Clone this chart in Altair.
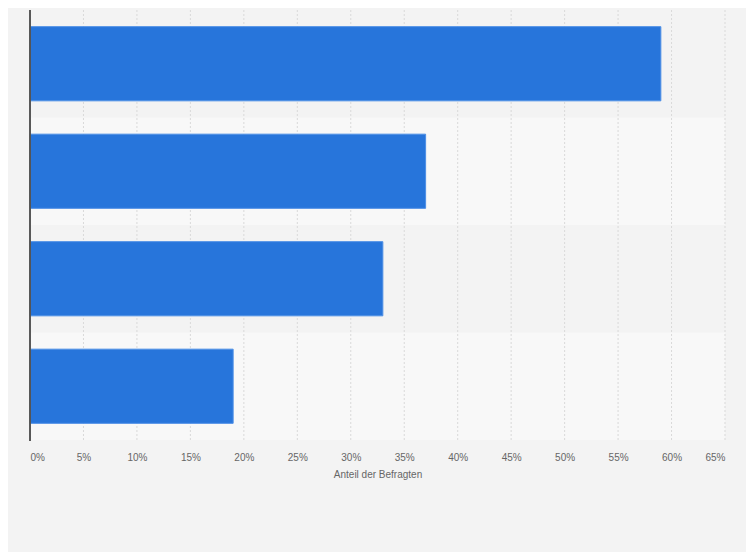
import altair as alt
import pandas as pd

categories = ["Kategorie A", "Kategorie B", "Kategorie C", "Kategorie D"]
values = [59, 37, 33, 19]
band_colors = ["#f3f3f3", "#f8f8f8", "#f3f3f3", "#f8f8f8"]
x_ticks = list(range(0, 70, 5))

df = pd.DataFrame({"cat": categories, "val": values, "band": band_colors})
grid_df = pd.DataFrame({"t": x_ticks[1:]})

x_scale = alt.Scale(domain=[0, 65], nice=False, zero=True)
x_axis = alt.Axis(values=x_ticks, labelExpr="datum.value + '%'",
                  grid=False, domain=False, ticks=False, labelPadding=12,
                  labelColor="#666666", labelFontSize=10, labelFont="Liberation Sans",
                  titleColor="#666666", titleFontSize=10, titleFontWeight="normal",
                  titleFont="Liberation Sans", titlePadding=7)

bands = alt.Chart(df).mark_rect().encode(
    y=alt.Y("cat:N", sort=categories, title=None, axis=None,
            scale=alt.Scale(paddingInner=0, paddingOuter=0)),
    x=alt.value(0),
    x2=alt.value(695),
    color=alt.Color("band:N", scale=None, legend=None),
)

grid = alt.Chart(grid_df).mark_rule(color="#d9d9d9", strokeDash=[2, 2], strokeWidth=1).encode(
    x=alt.X("t:Q", scale=x_scale, title="Anteil der Befragten", axis=x_axis),
    y=alt.value(0),
    y2=alt.value(430),
)

bars = alt.Chart(df).mark_bar(color="#2775db", stroke="#4d8fe6", strokeWidth=1).encode(
    y=alt.Y("cat:N", sort=categories, title=None,
            scale=alt.Scale(paddingInner=0.31, paddingOuter=0.155),
            axis=None),
    x=alt.X("val:Q", scale=x_scale, title="Anteil der Befragten", axis=x_axis),
)

left_line = alt.Chart(df).mark_rule(color="#555555", strokeWidth=1.2).encode(
    x=alt.value(0),
    y=alt.value(0),
    y2=alt.value(431),
)

chart = alt.layer(bands, grid, bars, left_line).resolve_scale(y="independent").properties(
    width=695, height=430,
    autosize=alt.AutoSizeParams(type="none"),
    padding={"left": 22, "top": 2, "right": 21, "bottom": 112},
    background="#f3f3f3",
).configure_view(stroke=None, fill="#f3f3f3")

chart.save("out.html", embed_options={"renderer": "svg", "actions": False})
